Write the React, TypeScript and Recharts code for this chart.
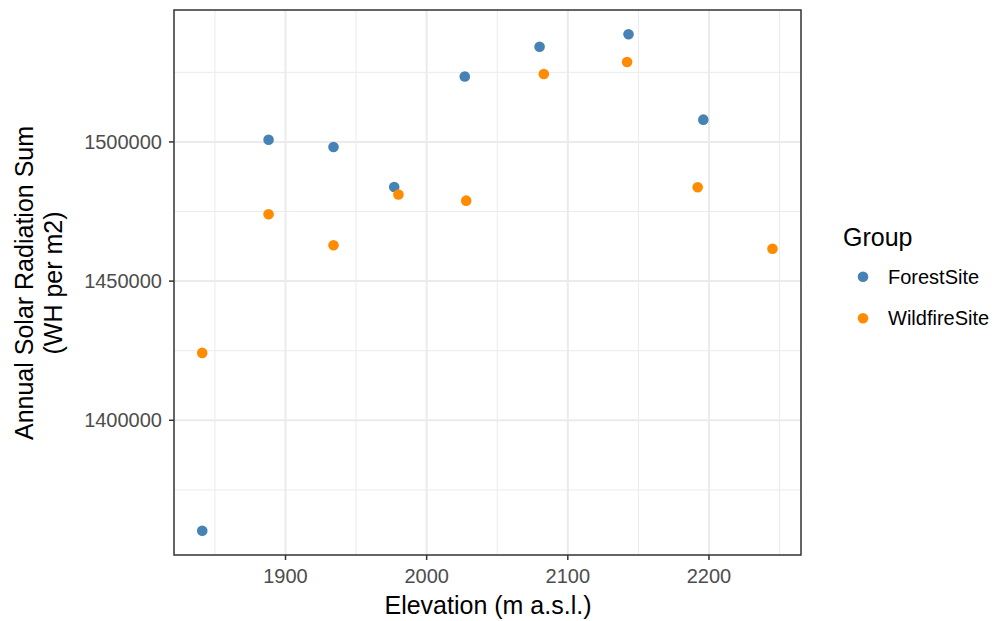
import { ScatterChart, Scatter, XAxis, YAxis, CartesianGrid, ReferenceArea } from "recharts";

const forestElevation = [1841, 1888, 1934, 1977, 2027, 2080, 2143, 2196];
const forestRadiation = [1360300, 1500800, 1498200, 1483800, 1523500, 1534200, 1538700, 1508000];
const wildfireElevation = [1841, 1888, 1934, 1980, 2028, 2083, 2142, 2192, 2245];
const wildfireRadiation = [1424200, 1474000, 1462900, 1481100, 1478900, 1524400, 1528700, 1483700, 1461600];

const xTicks = [1900, 2000, 2100, 2200];
const xMinor = [1850, 1950, 2050, 2150, 2250];
const yTicks = [1400000, 1450000, 1500000];
const yMinor = [1375000, 1425000, 1475000, 1525000];
const groups = ["ForestSite", "WildfireSite"];
const colors = ["#4682B4", "#FF8C00"];

const xDomain = [1821, 2265.2];
const yDomain = [1351600, 1547400];

const forest = forestElevation.map((x, i) => ({ x, y: forestRadiation[i] }));
const wildfire = wildfireElevation.map((x, i) => ({ x, y: wildfireRadiation[i] }));

const FONT = '"Liberation Sans", Arial, sans-serif';

const dot = (color: string) => (props: any) => (
  <circle cx={props.cx} cy={props.cy} r={5.3} fill={color} />
);

const YTitle = () => (
  <g fontFamily={FONT} fontSize={25} fill="#000">
    <text x={33} y={283} textAnchor="middle" transform="rotate(-90 33 283)">
      Annual Solar Radiation Sum
    </text>
    <text x={62} y={283} textAnchor="middle" transform="rotate(-90 62 283)">
      (WH per m2)
    </text>
  </g>
);

const XTitle = () => (
  <text x={488} y={614} textAnchor="middle" fontFamily={FONT} fontSize={25} fill="#000">
    Elevation (m a.s.l.)
  </text>
);

export default function App() {
  return (
    <div style={{ position: "absolute", left: 0, top: 0, width: 998, height: 621, background: "#fff" }}>
      <ScatterChart width={998} height={621} margin={{ top: 10, right: 197, bottom: 0, left: 0 }}>
        <CartesianGrid
          stroke="#ebebeb"
          strokeWidth={1}
          horizontalValues={yMinor}
          verticalValues={xMinor}
        />
        <CartesianGrid
          stroke="#ebebeb"
          strokeWidth={2}
          horizontalValues={yTicks}
          verticalValues={xTicks}
        />
        <XAxis
          type="number"
          dataKey="x"
          domain={xDomain}
          allowDataOverflow
          ticks={xTicks}
          height={66}
          axisLine={false}
          tickLine={{ stroke: "#333333", strokeWidth: 1.5 }}
          tickSize={5}
          tickMargin={9}
          tick={{ fill: "#4d4d4d", fontSize: 20, fontFamily: FONT }}
          label={{ content: XTitle }}
        />
        <YAxis
          type="number"
          dataKey="y"
          domain={yDomain}
          allowDataOverflow
          ticks={yTicks}
          width={174}
          axisLine={false}
          tickLine={{ stroke: "#333333", strokeWidth: 1.5 }}
          tickSize={5}
          tickMargin={7}
          tick={{ fill: "#4d4d4d", fontSize: 20, fontFamily: FONT }}
          label={{ content: YTitle }}
        />
        <ReferenceArea
          x1={xDomain[0]}
          x2={xDomain[1]}
          y1={yDomain[0]}
          y2={yDomain[1]}
          fill="none"
          stroke="#333333"
          strokeWidth={1.5}
          ifOverflow="extendDomain"
        />
        <Scatter name={groups[0]} data={forest} shape={dot(colors[0])} isAnimationActive={false} />
        <Scatter name={groups[1]} data={wildfire} shape={dot(colors[1])} isAnimationActive={false} />
      </ScatterChart>
      <svg
        width={160}
        height={130}
        style={{ position: "absolute", left: 830, top: 210 }}
        fontFamily={FONT}
      >
        <text x={13} y={36} fontSize={25} fill="#000">
          Group
        </text>
        {groups.map((g, i) => (
          <g key={g}>
            <circle cx={33} cy={66.7 + i * 41.6} r={5.3} fill={colors[i]} />
            <text x={58} y={73.5 + i * 41.6} fontSize={20} fill="#000">
              {g}
            </text>
          </g>
        ))}
      </svg>
    </div>
  );
}
